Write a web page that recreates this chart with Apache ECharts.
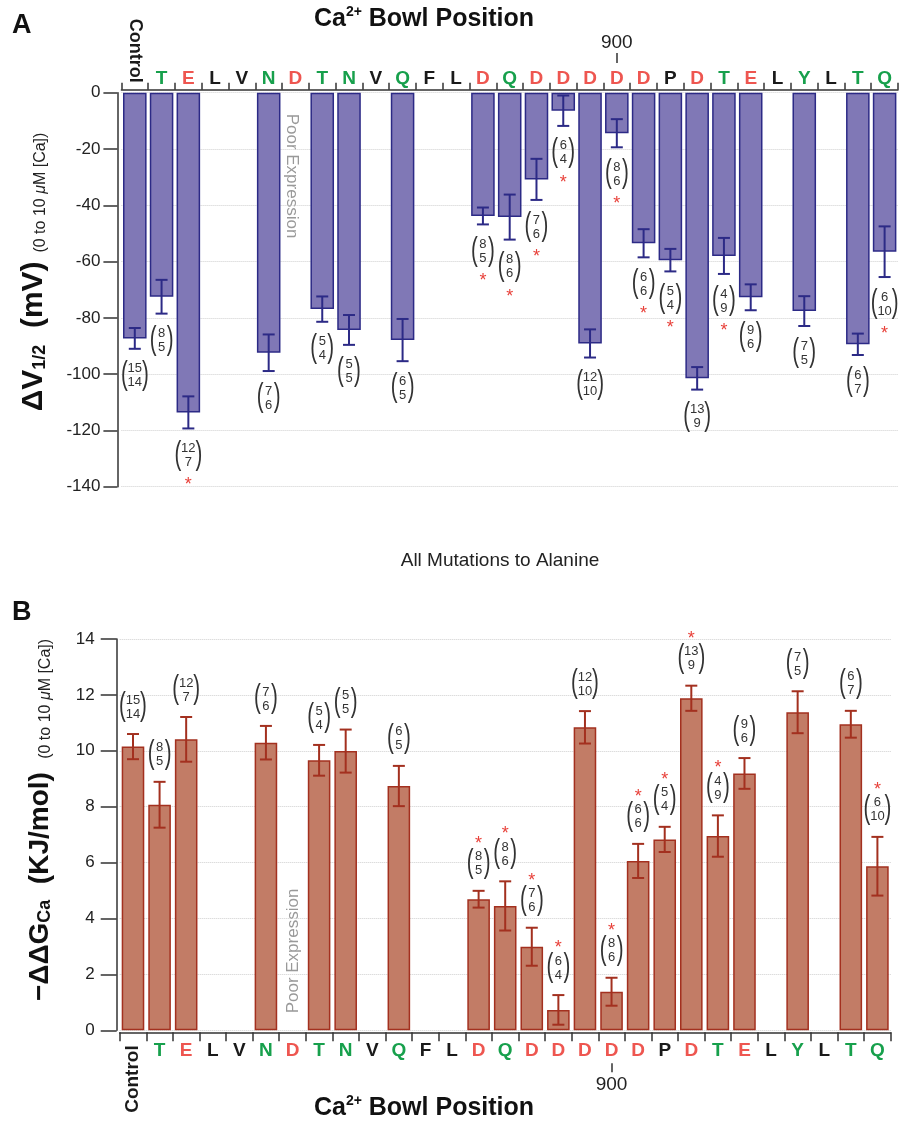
<!DOCTYPE html>
<html><head><meta charset="utf-8">
<script src="https://cdn.jsdelivr.net/npm/echarts@6/dist/echarts.min.js"></script>
<style>html,body{margin:0;padding:0;background:#fff}#c{width:914px;height:1123px}</style>
</head><body><div id="c"></div>
<script>
// ---- data ----
const catLetters = ['Control','T','E','L','V','N','D','T','N','V','Q','F','L','D','Q','D','D','D','D','D','P','D','T','E','L','Y','L','T','Q'];
const catTypes   = ['c','g','r','k','k','g','r','g','g','k','g','k','k','r','g','r','r','r','r','r','k','r','g','r','k','g','k','g','g'];
const pos900Index = 18;
const posTickLabel = '900';
// Panel A: shift in V1/2 (mV)
const dV    = [-87.3,-72.5,-113.6,null,null,-92.4,null,-76.9,-84.3,null,-87.9,null,null,-43.8,-44.2,-30.8,-6.4,-89.1,-14.4,-53.5,-59.5,-101.5,-58.0,-72.7,null,-77.6,null,-89.4,-56.5];
const dVErr = [3.7,6.0,5.7,null,null,6.5,null,4.5,5.3,null,7.5,null,null,3.0,8.0,7.3,5.4,5.0,5.0,5.0,4.0,4.0,6.4,4.6,null,5.3,null,3.8,9.0];
// Panel B: -ddG (KJ/mol)
const ddG    = [10.15,8.07,10.41,null,null,10.29,null,9.66,9.99,null,8.74,null,null,4.69,4.45,2.99,0.73,10.84,1.38,6.06,6.83,11.88,6.95,9.19,null,11.38,null,10.95,5.87];
const ddGErr = [0.45,0.82,0.80,null,null,0.60,null,0.55,0.77,null,0.72,null,null,0.30,0.88,0.68,0.53,0.58,0.50,0.61,0.45,0.45,0.74,0.55,null,0.75,null,0.48,1.05];
// sample sizes (top / bottom)
const nTop = [15,8,12,null,null,7,null,5,5,null,6,null,null,8,8,7,6,12,8,6,5,13,4,9,null,7,null,6,6];
const nBot = [14,5,7,null,null,6,null,4,5,null,5,null,null,5,6,6,4,10,6,6,4,9,9,6,null,5,null,7,10];
// significance
const sigA = [0,0,1,0,0,0,0,0,0,0,0,0,0,1,1,1,1,0,1,1,1,0,1,0,0,0,0,0,1];
const sigB = [0,0,0,0,0,0,0,0,0,0,0,0,0,1,1,1,1,0,1,1,1,1,1,0,0,0,0,0,1];
const yTicksA = {min:-140, max:0, step:20};
const yTicksB = {min:0, max:14, step:2};

// ---- styling ----
const FF = 'Liberation Sans, Arial, Helvetica, sans-serif';
const GREEN = '#17a04c', RED = '#ee5650', BLACK = '#1a1a1a';
const A_FILL = '#8078b6', A_EDGE = '#2c2a86';
const B_FILL = '#c27c66', B_EDGE = '#a3301f';
const AXIS = '#333';

const catIds = catLetters.map((c,i)=>String(i));
const richLetters = {
  g:{color:GREEN,fontSize:19,fontWeight:'bold',fontFamily:FF},
  r:{color:RED,fontSize:19,fontWeight:'bold',fontFamily:FF},
  k:{color:BLACK,fontSize:19,fontWeight:'bold',fontFamily:FF}
};
const fmtLetter = (v,i)=> catTypes[i]==='c' ? '' : '{'+catTypes[i]+'|'+catLetters[i]+'}';

function errData(vals, errs){
  const out=[]; vals.forEach((v,i)=>{ if(v!==null) out.push([i,v,errs[i]]); }); return out;
}
function annData(vals, errs, sig){
  const out=[]; vals.forEach((v,i)=>{ if(v!==null) out.push([i,v,errs[i],nTop[i],nBot[i],sig[i]]); }); return out;
}
function errRender(color){
  return function(params, api){
    const i=api.value(0), v=api.value(1), e=api.value(2);
    const hi=api.coord([i,v+e]), lo=api.coord([i,v-e]);
    const x=hi[0], hw=6, st={stroke:color,lineWidth:2};
    return {type:'group',children:[
      {type:'line',shape:{x1:x,y1:hi[1],x2:x,y2:lo[1]},style:st},
      {type:'line',shape:{x1:x-hw,y1:hi[1],x2:x+hw,y2:hi[1]},style:st},
      {type:'line',shape:{x1:x-hw,y1:lo[1],x2:x+hw,y2:lo[1]},style:st}
    ]};
  };
}
function annRender(dir){ // dir=+1: below (panel A), -1: above (panel B)
  return function(params, api){
    const i=api.value(0), v=api.value(1), e=api.value(2);
    const t=String(api.value(3)), b=String(api.value(4)), s=api.value(5);
    const end = api.coord([i, dir>0 ? v-e : v+e]);
    const x=end[0], cy=end[1]+dir*27;
    const two = Math.max(t.length,b.length)>1;
    const w = two ? 10.5 : 8.5;
    const numStyle = (txt,y)=>({type:'text',x:x,y:y,style:{text:txt,fill:'#333',font:'13px '+FF,textAlign:'center',textVerticalAlign:'middle'}});
    const paren = (ch,px)=>({type:'text',x:px,y:cy-1,scaleX:0.62,style:{text:ch,fill:'#333',font:'33px '+FF,textAlign:'center',textVerticalAlign:'middle'}});
    const kids=[ numStyle(t,cy-7), numStyle(b,cy+7), paren('(',x-w), paren(')',x+w) ];
    if(s){
      kids.push({type:'text',x:x,y:cy+dir*25+5,style:{text:'*',fill:'#e8413a',font:'18px '+FF,textAlign:'center',textVerticalAlign:'middle'}});
    }
    return {type:'group',children:kids};
  };
}

const chart = echarts.init(document.getElementById('c'), null, {renderer:'canvas'});
const axisLineStyle = {color:AXIS,width:1.5};

const option = {
  backgroundColor:'#fff',
  animation:false,
  textStyle:{fontFamily:FF},
  grid:[
    {left:121.4, right:16, top:92.7, height:394},
    {left:119.7, right:23.3, top:639, height:391.3}
  ],
  xAxis:[
    {type:'category',gridIndex:0,position:'top',data:catIds,offset:3,
      axisLine:{show:true,onZero:false,lineStyle:axisLineStyle},
      axisTick:{show:true,interval:0,length:7,lineStyle:axisLineStyle},
      axisLabel:{interval:0,margin:1,formatter:fmtLetter,rich:richLetters},
      splitLine:{show:false}},
    {type:'category',gridIndex:0,position:'top',data:catIds,offset:3,
      axisLine:{show:false},axisTick:{show:false},
      axisLabel:{interval:0,rotate:-90,margin:7,fontSize:18,fontWeight:'bold',color:BLACK,fontFamily:FF,
        formatter:(v,i)=> catTypes[i]==='c'?catLetters[i]:''}},
    {type:'category',gridIndex:0,position:'top',data:catIds,offset:29.7,
      axisLine:{show:false},
      axisTick:{show:true,alignWithLabel:true,interval:(i)=>i===pos900Index,length:10,lineStyle:axisLineStyle},
      axisLabel:{interval:0,margin:11,fontSize:19,color:'#222',fontFamily:FF,
        formatter:(v,i)=> i===pos900Index?posTickLabel:''}},
    {type:'category',gridIndex:1,position:'bottom',data:catIds,offset:2,
      axisLine:{show:true,onZero:false,lineStyle:axisLineStyle},
      axisTick:{show:true,interval:0,length:9,lineStyle:axisLineStyle},
      axisLabel:{interval:0,margin:9,formatter:fmtLetter,rich:richLetters},
      splitLine:{show:false}},
    {type:'category',gridIndex:1,position:'bottom',data:catIds,offset:2,
      axisLine:{show:false},axisTick:{show:false},
      axisLabel:{interval:0,rotate:90,margin:13,fontSize:19,fontWeight:'bold',color:BLACK,fontFamily:FF,
        formatter:(v,i)=> catTypes[i]==='c'?catLetters[i]:''}},
    {type:'category',gridIndex:1,position:'bottom',data:catIds,offset:33,
      axisLine:{show:false},
      axisTick:{show:true,alignWithLabel:true,interval:(i)=>i===pos900Index,length:9,lineStyle:axisLineStyle},
      axisLabel:{interval:0,margin:12,fontSize:19,color:'#222',fontFamily:FF,
        formatter:(v,i)=> i===pos900Index?posTickLabel:''}}
  ],
  yAxis:[
    {type:'value',gridIndex:0,min:yTicksA.min,max:yTicksA.max,interval:yTicksA.step,offset:4,
      axisLine:{show:true,lineStyle:axisLineStyle},
      axisTick:{show:true,length:14,lineStyle:axisLineStyle},
      axisLabel:{margin:17,fontSize:17,color:'#222',fontFamily:FF},
      splitLine:{show:true,lineStyle:{type:'dotted',color:'#cfcfcf',width:1}}},
    {type:'value',gridIndex:1,min:yTicksB.min,max:yTicksB.max,interval:yTicksB.step,offset:3,
      axisLine:{show:true,lineStyle:axisLineStyle},
      axisTick:{show:true,length:16,lineStyle:axisLineStyle},
      axisLabel:{margin:22,fontSize:17,color:'#222',fontFamily:FF},
      splitLine:{show:true,lineStyle:{type:'dotted',color:'#cfcfcf',width:1}}}
  ],
  series:[
    {type:'bar',xAxisIndex:0,yAxisIndex:0,data:dV,barCategoryGap:'12%',
      itemStyle:{color:A_FILL,borderColor:A_EDGE,borderWidth:1.5}},
    {type:'custom',xAxisIndex:0,yAxisIndex:0,data:errData(dV,dVErr),renderItem:errRender(A_EDGE),z:5},
    {type:'custom',xAxisIndex:0,yAxisIndex:0,data:annData(dV,dVErr,sigA),renderItem:annRender(1),z:6},
    {type:'bar',xAxisIndex:3,yAxisIndex:1,data:ddG,barCategoryGap:'15%',
      itemStyle:{color:B_FILL,borderColor:B_EDGE,borderWidth:1.5}},
    {type:'custom',xAxisIndex:3,yAxisIndex:1,data:errData(ddG,ddGErr),renderItem:errRender(B_EDGE),z:5},
    {type:'custom',xAxisIndex:3,yAxisIndex:1,data:annData(ddG,ddGErr,sigB),renderItem:annRender(-1),z:6}
  ],
  graphic:[
    {type:'text',left:12,top:12,style:{text:'A',font:'bold 27px '+FF,fill:'#111'}},
    {type:'text',left:12,top:599,style:{text:'B',font:'bold 27px '+FF,fill:'#111'}},
    {type:'text',x:424,y:19,style:{text:'{b|Ca}{s|2+}{b| Bowl Position}',textAlign:'center',textVerticalAlign:'middle',
      rich:{b:{fontSize:25,fontWeight:'bold',fontFamily:FF,fill:'#111',lineHeight:28},s:{fontSize:14,fontWeight:'bold',fontFamily:FF,fill:'#111',verticalAlign:'top',lineHeight:14}}}},
    {type:'text',x:424,y:1108,style:{text:'{b|Ca}{s|2+}{b| Bowl Position}',textAlign:'center',textVerticalAlign:'middle',
      rich:{b:{fontSize:25,fontWeight:'bold',fontFamily:FF,fill:'#111',lineHeight:28},s:{fontSize:14,fontWeight:'bold',fontFamily:FF,fill:'#111',verticalAlign:'top',lineHeight:14}}}},
    {type:'text',x:500,y:561,style:{text:'All Mutations to Alanine',font:'19px '+FF,fill:'#222',textAlign:'center',textVerticalAlign:'middle'}},
    {type:'text',x:32,y:272,rotation:Math.PI/2,style:{text:'{b|ΔV}{sub|1/2}{b|  (mV)}{s|  (0 to 10 }{si|μ}{s|M [Ca])}',textAlign:'center',textVerticalAlign:'middle',
      rich:{b:{fontSize:30,fontWeight:'bold',fontFamily:FF,fill:'#111',lineHeight:34,verticalAlign:'bottom'},
            sub:{fontSize:18,fontWeight:'bold',fontFamily:FF,fill:'#111',lineHeight:18,verticalAlign:'bottom'},
            s:{fontSize:16,fontFamily:FF,fill:'#222',lineHeight:26,verticalAlign:'bottom'},
            si:{fontSize:16,fontStyle:'italic',fontFamily:FF,fill:'#222',lineHeight:26,verticalAlign:'bottom'}}}},
    {type:'text',x:38,y:820,rotation:Math.PI/2,style:{text:'{b|−ΔΔG}{sub|Ca}{b|  (KJ/mol)}{s|   (0 to 10 }{si|μ}{s|M [Ca])}',textAlign:'center',textVerticalAlign:'middle',
      rich:{b:{fontSize:28,fontWeight:'bold',fontFamily:FF,fill:'#111',lineHeight:32,verticalAlign:'bottom'},
            sub:{fontSize:18,fontWeight:'bold',fontFamily:FF,fill:'#111',lineHeight:18,verticalAlign:'bottom'},
            s:{fontSize:16,fontFamily:FF,fill:'#222',lineHeight:26,verticalAlign:'bottom'},
            si:{fontSize:16,fontStyle:'italic',fontFamily:FF,fill:'#222',lineHeight:26,verticalAlign:'bottom'}}}},
    {type:'text',x:292,y:176,rotation:-Math.PI/2,style:{text:'Poor Expression',font:'17px '+FF,fill:'#999',textAlign:'center',textVerticalAlign:'middle'}},
    {type:'text',x:293,y:951,rotation:Math.PI/2,style:{text:'Poor Expression',font:'17px '+FF,fill:'#999',textAlign:'center',textVerticalAlign:'middle'}}
  ]
};
chart.setOption(option);
</script>
</body></html>
